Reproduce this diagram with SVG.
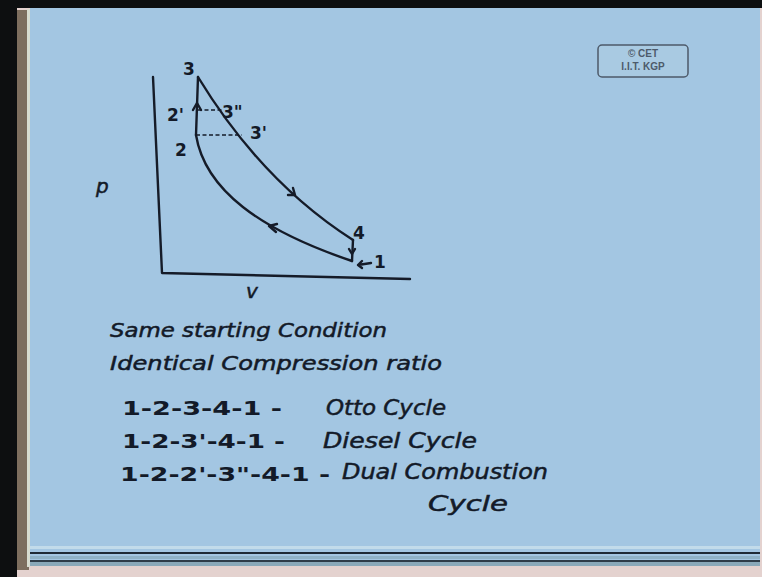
<svg xmlns="http://www.w3.org/2000/svg" width="762" height="577" viewBox="0 0 762 577">
<defs>
<style>
.ink{fill:none;stroke:#151b28;stroke-width:2.4;stroke-linecap:round;stroke-linejoin:round}
.dash{fill:none;stroke:#151b28;stroke-width:1.3;stroke-dasharray:4 2.5}
.hand{font-family:"DejaVu Sans","Liberation Sans",sans-serif;font-style:italic;fill:#131a28;stroke:#131a28;stroke-width:0.5}
.lbl{font-family:"DejaVu Sans","Liberation Sans",sans-serif;font-weight:bold;fill:#131a28;font-size:17px}
.list{font-family:"DejaVu Sans","Liberation Sans",sans-serif;font-weight:bold;fill:#131a28;font-size:19px}
.mark{font-family:"Liberation Sans",Arial,sans-serif;font-weight:bold;fill:#4d5a6a;font-size:10px;text-anchor:middle}
</style>
</defs>
<!-- background / frame -->
<rect x="0" y="0" width="762" height="577" fill="#e4d2cf"/>
<rect x="0" y="0" width="762" height="8" fill="#0d0f10"/>
<rect x="0" y="0" width="17" height="577" fill="#0d0f10"/>
<rect x="17" y="10" width="12" height="560" fill="#7d6e5e"/>
<rect x="27" y="9" width="3" height="558" fill="#d8dccf"/>
<rect x="30" y="8" width="730" height="558" fill="#a3c6e2"/>
<rect x="30" y="546" width="730" height="3" fill="#c2dbea"/>
<rect x="30" y="552" width="730" height="2" fill="#1e2a36"/>
<rect x="30" y="556" width="730" height="3" fill="#8fb2c7"/>
<rect x="30" y="560" width="730" height="2" fill="#2e3c48"/>
<rect x="30" y="562" width="730" height="4" fill="#8aa9b9"/>

<!-- copyright box -->
<g id="copyright">
<rect x="598" y="45" width="90" height="32" rx="4" fill="#a9cae2" stroke="#4d5a6a" stroke-width="1.5"/>
<text class="mark" x="643" y="57">© CET</text>
<text class="mark" x="643" y="70">I.I.T. KGP</text>
</g>

<!-- axes -->
<g id="axes">
<path class="ink" d="M153,77 L162,273 L410,279"/>
<text class="hand" x="96" y="193" font-size="20" font-style="normal">p</text>
<text class="hand" x="246" y="298" font-size="20">v</text>
</g>

<!-- process lines -->
<g id="connectors">
<path class="ink" d="M196,135 L198,77"/>
<path class="ink" d="M198,77 Q262,182 353,240"/>
<path class="ink" d="M353,240 L352,261"/>
<path class="ink" d="M352,261 C260,230 205,190 196,135"/>
<path class="dash" d="M198,110 L223,110"/>
<path class="dash" d="M196,135 L242,135"/>
<!-- arrowheads -->
<path class="ink" d="M193,110 L197,103 L201,110"/>
<path class="ink" d="M288,195 L295,195 L293,188"/>
<path class="ink" d="M349,249 L352,254 L355,249"/>
<path class="ink" d="M276,232 L269,226 L277,224"/>
<path class="ink" d="M371,263 L358,265 M362,261 L358,265 L362,268"/>
</g>

<!-- state points -->
<g id="p3"><text class="lbl" x="183" y="75">3</text></g>
<g id="p2prime"><text class="lbl" x="167" y="121">2'</text></g>
<g id="p2"><text class="lbl" x="175" y="156">2</text></g>
<g id="p3dprime"><text class="lbl" x="222" y="118">3"</text></g>
<g id="p3prime"><text class="lbl" x="250" y="139">3'</text></g>
<g id="p4"><text class="lbl" x="353" y="239">4</text></g>
<g id="p1"><text class="lbl" x="374" y="268">1</text></g>

<!-- notes -->
<g id="notes">
<text class="hand" x="110" y="337" font-size="20" textLength="277" lengthAdjust="spacingAndGlyphs">Same starting Condition</text>
<text class="hand" x="110" y="370" font-size="20" textLength="332" lengthAdjust="spacingAndGlyphs">Identical Compression ratio</text>
<text class="list" x="122" y="415" textLength="160" lengthAdjust="spacingAndGlyphs">1-2-3-4-1  -</text>
<text class="hand" x="326" y="415" font-size="21" textLength="120" lengthAdjust="spacingAndGlyphs">Otto Cycle</text>
<text class="list" x="122" y="448" textLength="163" lengthAdjust="spacingAndGlyphs">1-2-3'-4-1 -</text>
<text class="hand" x="323" y="448" font-size="21" textLength="154" lengthAdjust="spacingAndGlyphs">Diesel Cycle</text>
<text class="list" x="120" y="481" textLength="210" lengthAdjust="spacingAndGlyphs">1-2-2'-3"-4-1 -</text>
<text class="hand" x="342" y="479" font-size="21" textLength="206" lengthAdjust="spacingAndGlyphs">Dual Combustion</text>
<text class="hand" x="428" y="511" font-size="21" textLength="80" lengthAdjust="spacingAndGlyphs">Cycle</text>
</g>
</svg>
